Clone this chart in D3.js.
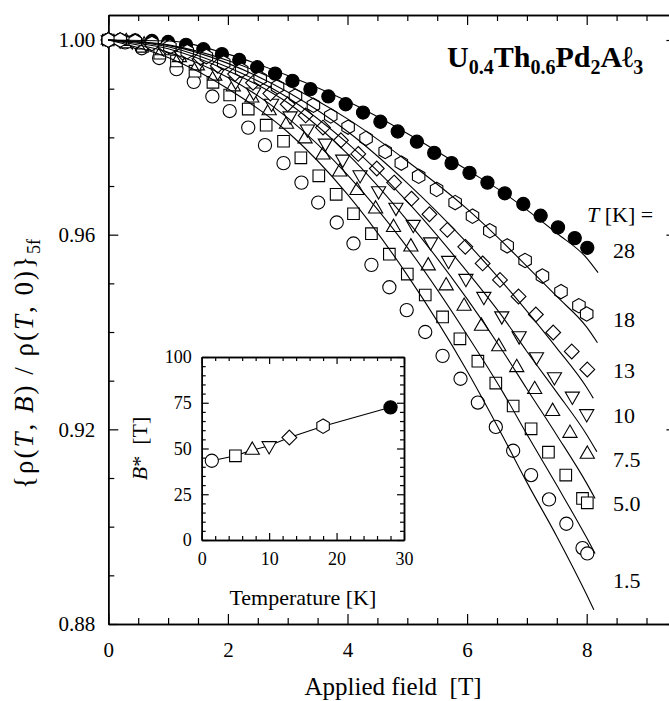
<!DOCTYPE html>
<html>
<head>
<meta charset="utf-8">
<script src="https://cdn.jsdelivr.net/npm/d3@7"></script>
<style>
  body { margin: 0; background: #fff; }
  svg { display: block; font-family: 'Liberation Serif', 'Times New Roman', serif; }
</style>
</head>
<body>
<div class="container"></div>
<script>
/* Params */
const width = 669;
const height = 701;

/* Data: applied field [T] and {rho(T,B)/rho(T,0)}_5f for each temperature */
const field28 = [0, 0.2, 0.45, 0.73, 1.0, 1.3, 1.59, 1.90, 2.19, 2.49, 2.79, 3.08, 3.38, 3.68, 3.97, 4.26, 4.55, 4.84, 5.16, 5.45, 5.74, 6.04, 6.34, 6.63, 6.94, 7.23, 7.52, 7.80, 8.01];
const rho28 = [1.0000, 1.0000, 0.9999, 0.9998, 0.9996, 0.9990, 0.9981, 0.9971, 0.9959, 0.9944, 0.9931, 0.9916, 0.9899, 0.9884, 0.9868, 0.9851, 0.9832, 0.9812, 0.9791, 0.9768, 0.9747, 0.9727, 0.9707, 0.9685, 0.9663, 0.9639, 0.9615, 0.9593, 0.9573];

const field18 = [0, 0.2, 0.45, 0.73, 1.03, 1.32, 1.64, 1.93, 2.23, 2.54, 2.83, 3.13, 3.43, 3.72, 4.01, 4.31, 4.63, 4.90, 5.19, 5.49, 5.80, 6.09, 6.38, 6.67, 6.97, 7.26, 7.57, 7.87, 8.00];
const rho18 = [1.0000, 1.0000, 0.9997, 0.9993, 0.9986, 0.9976, 0.9966, 0.9953, 0.9938, 0.9921, 0.9904, 0.9885, 0.9866, 0.9844, 0.9821, 0.9798, 0.9771, 0.9747, 0.9720, 0.9693, 0.9666, 0.9638, 0.9608, 0.9577, 0.9547, 0.9515, 0.9483, 0.9454, 0.9437];

const field13 = [0, 0.2, 0.45, 0.7, 0.95, 1.24, 1.54, 1.83, 2.12, 2.42, 2.71, 3.00, 3.30, 3.59, 3.89, 4.18, 4.49, 4.78, 5.07, 5.37, 5.67, 5.97, 6.26, 6.55, 6.86, 7.15, 7.44, 7.75, 8.01];
const rho13 = [1.0000, 1.0000, 0.9998, 0.9994, 0.9987, 0.9974, 0.9963, 0.9947, 0.9930, 0.9912, 0.9890, 0.9868, 0.9845, 0.9820, 0.9794, 0.9766, 0.9736, 0.9707, 0.9674, 0.9642, 0.9610, 0.9575, 0.9541, 0.9507, 0.9473, 0.9436, 0.9399, 0.9360, 0.9323];

const field10 = [0, 0.2, 0.4, 0.63, 0.92, 1.22, 1.52, 1.83, 2.13, 2.43, 2.73, 3.04, 3.33, 3.63, 3.92, 4.21, 4.52, 4.81, 5.10, 5.39, 5.69, 5.98, 6.28, 6.58, 6.87, 7.16, 7.46, 7.76, 8.00];
const rho10 = [1.0000, 1.0000, 0.9998, 0.9993, 0.9984, 0.9969, 0.9953, 0.9934, 0.9915, 0.9893, 0.9870, 0.9844, 0.9817, 0.9788, 0.9755, 0.9723, 0.9690, 0.9656, 0.9621, 0.9585, 0.9547, 0.9510, 0.9473, 0.9433, 0.9392, 0.9349, 0.9308, 0.9268, 0.9232];

const field7 = [0, 0.3, 0.6, 0.9, 1.19, 1.49, 1.78, 2.09, 2.40, 2.69, 2.98, 3.29, 3.59, 3.87, 4.16, 4.47, 4.77, 5.06, 5.35, 5.65, 5.95, 6.24, 6.53, 6.83, 7.13, 7.43, 7.72, 8.01];
const rho7 = [1.0000, 0.9997, 0.9990, 0.9978, 0.9964, 0.9947, 0.9926, 0.9904, 0.9881, 0.9855, 0.9827, 0.9797, 0.9764, 0.9729, 0.9691, 0.9653, 0.9615, 0.9575, 0.9536, 0.9495, 0.9453, 0.9412, 0.9370, 0.9327, 0.9282, 0.9237, 0.9192, 0.9149];

const field5 = [0, 0.28, 0.57, 0.86, 1.14, 1.45, 1.75, 2.03, 2.34, 2.64, 2.93, 3.22, 3.52, 3.81, 4.10, 4.40, 4.70, 5.00, 5.30, 5.59, 5.88, 6.18, 6.48, 6.77, 7.07, 7.36, 7.65, 7.93, 8.01];
const rho5 = [1.0000, 0.9996, 0.9987, 0.9973, 0.9957, 0.9936, 0.9913, 0.9887, 0.9858, 0.9825, 0.9792, 0.9758, 0.9721, 0.9683, 0.9643, 0.9602, 0.9560, 0.9519, 0.9476, 0.9431, 0.9386, 0.9340, 0.9295, 0.9248, 0.9201, 0.9153, 0.9106, 0.9058, 0.9049];

const field1 = [0, 0.28, 0.56, 0.85, 1.14, 1.43, 1.74, 2.03, 2.34, 2.62, 2.93, 3.23, 3.51, 3.82, 4.10, 4.40, 4.70, 4.99, 5.30, 5.59, 5.89, 6.18, 6.48, 6.77, 7.07, 7.37, 7.66, 7.93, 8.01];
const rho1 = [1.0000, 0.9995, 0.9983, 0.9963, 0.9940, 0.9914, 0.9884, 0.9854, 0.9820, 0.9784, 0.9747, 0.9707, 0.9666, 0.9625, 0.9582, 0.9538, 0.9492, 0.9445, 0.9400, 0.9351, 0.9304, 0.9255, 0.9205, 0.9156, 0.9106, 0.9056, 0.9006, 0.8956, 0.8945];

/* Fit curves (solid lines) */
const fitField = [0, 1, 2, 3, 4, 5, 6, 6.6, 7, 7.5, 8];
const fitRho28 = [1.0, 0.9998, 0.9971, 0.9927, 0.9874, 0.9808, 0.9733, 0.9687, 0.9651, 0.9603, 0.9552];
const fitRho18 = [1.0, 0.9990, 0.9958, 0.9907, 0.9838, 0.9751, 0.9653, 0.9584, 0.9535, 0.9473, 0.9410];
const fitRho13 = [1.0, 0.9989, 0.9952, 0.9893, 0.9812, 0.9706, 0.9583, 0.9501, 0.9443, 0.9367, 0.9286];
const fitRho10 = [1.0, 0.9986, 0.9944, 0.9882, 0.9788, 0.9668, 0.9524, 0.9430, 0.9360, 0.9276, 0.9189];
const fitRho7 = [1.0, 0.9982, 0.9937, 0.9871, 0.9766, 0.9629, 0.9468, 0.9360, 0.9283, 0.9188, 0.9089];
const fitRho5 = [1.0, 0.9975, 0.9923, 0.9840, 0.9723, 0.9574, 0.9394, 0.9276, 0.9190, 0.9085, 0.8977];
const fitRho1 = [1.0, 0.9964, 0.9900, 0.9811, 0.9683, 0.9517, 0.9320, 0.9185, 0.9091, 0.8980, 0.8860];
// where each fit line stops on the right
const fitEndField = [8.19, 8.18, 8.11, 8.17, 8.14, 8.14, 8.12];
const fitEndRho = [0.9522, 0.9378, 0.9264, 0.9154, 0.9058, 0.8945, 0.8829];

/* Inset: B* vs temperature */
const insetTemp = [1.5, 5.0, 7.5, 10, 13, 18, 28];
const insetBstar = [43.3, 46.0, 49.1, 51.5, 56.0, 62.2, 72.5];

/* Labels and ticks */
const tempLabels = ['28', '18', '13', '10', '7.5', '5.0', '1.5'];
const xTicks = [0, 2, 4, 6, 8];
const yTicks = [0.88, 0.92, 0.96, 1.00];
const insetXTicks = [0, 10, 20, 30];
const insetYTicks = [0, 25, 50, 75, 100];

/* Layout */
const plot = { left: 108.3, top: 15, bottom: 624, xMax: 9.5, yTop: 1.00514 };
const inset = { left: 201.7, right: 404, top: 357, bottom: 540 };
const labelX = 613;
const labelY = [258, 327, 378, 423, 467, 511, 588];

/* Marker shapes */
function shapePath(kind) {
    const p = d3.path();
    if (kind === 'circle' || kind === 'filled') {
        p.arc(0, 0, 6.6, 0, 2 * Math.PI);
    } else if (kind === 'square') {
        p.rect(-5.8, -5.8, 11.6, 11.6);
    } else if (kind === 'up' || kind === 'down') {
        const s = kind === 'up' ? 1 : -1;
        const r = 8.2;
        p.moveTo(0, -r * s);
        p.lineTo(r * Math.cos(Math.PI / 6), r * 0.5 * s);
        p.lineTo(-r * Math.cos(Math.PI / 6), r * 0.5 * s);
    } else if (kind === 'diamond') {
        const r = 7.4;
        p.moveTo(0, -r); p.lineTo(r, 0); p.lineTo(0, r); p.lineTo(-r, 0);
    } else if (kind === 'hexagon') {
        const r = 7.2;
        for (let i = 0; i < 6; i++) {
            const a = Math.PI / 2 + i * Math.PI / 3;
            if (i === 0) p.moveTo(r * Math.cos(a), -r * Math.sin(a));
            else p.lineTo(r * Math.cos(a), -r * Math.sin(a));
        }
    }
    p.closePath();
    return p.toString();
}

function drawMarkers(g, pts, kind) {
    g.selectAll(null)
        .data(pts)
        .enter()
        .append('path')
        .attr('transform', d => `translate(${d[0]},${d[1]})`)
        .attr('d', shapePath(kind))
        .attr('fill', kind === 'filled' ? '#000' : '#fff')
        .attr('stroke', '#000')
        .attr('stroke-width', 1.1);
}

function styleAxis(sel, size) {
    sel.select('.domain').attr('stroke-width', 1.5);
    sel.selectAll('.tick line').attr('stroke-width', 1.2);
    sel.selectAll('text')
        .attr('font-family', "'Liberation Serif', serif")
        .attr('font-size', size)
        .attr('fill', '#000');
}

// inward ticks on all four sides of a box, labels on bottom and left
function boxAxes(g, x, y, opt) {
    const [x0, x1] = x.range();
    const [y0, y1] = y.range();
    const sides = [
        { axis: d3.axisBottom(x), t: `translate(0,${y0})`, vals: [opt.xMajor, opt.xMinor], fmt: opt.xFormat, pad: opt.xPad },
        { axis: d3.axisTop(x), t: `translate(0,${y1})`, vals: [opt.xMajor, opt.xMinor], fmt: '' },
        { axis: d3.axisLeft(y), t: `translate(${x0},0)`, vals: [opt.yMajor, opt.yMinor], fmt: opt.yFormat, pad: opt.yPad },
        { axis: d3.axisRight(y), t: `translate(${x1},0)`, vals: [opt.yMajor, opt.yMinor], fmt: '' }
    ];
    sides.forEach(s => {
        g.append('g').attr('transform', s.t)
            .call(s.axis.tickValues(s.vals[1]).tickSize(-opt.minor).tickSizeOuter(0).tickFormat(''))
            .call(sel => styleAxis(sel, opt.font));
        g.append('g').attr('transform', s.t)
            .call(s.axis.tickValues(s.vals[0]).tickSize(-opt.major).tickSizeOuter(0)
                .tickPadding(s.pad || 3)
                .tickFormat(s.fmt === '' ? '' : s.fmt))
            .call(sel => styleAxis(sel, opt.font));
    });
}

function draw() {
    const svg = d3.select('.container')
        .append('svg')
        .attr('width', width)
        .attr('height', height)
        .style('background', '#fff');

    const x = d3.scaleLinear().domain([0, plot.xMax]).range([plot.left, plot.left + 59.8 * plot.xMax]);
    const y = d3.scaleLinear().domain([0.88, plot.yTop]).range([plot.bottom, plot.top]);

    const xMinor = d3.range(0, 9.51, 0.5).filter(v => v % 2 !== 0);
    const yMinor = d3.range(0.88, 1.0051, 0.01).filter(v => Math.round(v * 100) % 4 !== 0);

    boxAxes(svg.append('g'), x, y, {
        xMajor: xTicks, xMinor: xMinor, yMajor: yTicks, yMinor: yMinor,
        major: 10, minor: 6, font: 21, xPad: 18, yPad: 13,
        xFormat: d3.format('d'), yFormat: d3.format('.2f')
    });

    // markers, plotted per temperature
    const series = [
        { f: field28, r: rho28, kind: 'filled' },
        { f: field1, r: rho1, kind: 'circle' },
        { f: field5, r: rho5, kind: 'square' },
        { f: field7, r: rho7, kind: 'up' },
        { f: field10, r: rho10, kind: 'down' },
        { f: field13, r: rho13, kind: 'diamond' },
        { f: field18, r: rho18, kind: 'hexagon' }
    ];
    const dataG = svg.append('g');
    series.forEach(s => {
        drawMarkers(dataG, s.f.map((b, i) => [x(b), y(s.r[i])]), s.kind);
    });

    // fit lines
    const fits = [fitRho28, fitRho18, fitRho13, fitRho10, fitRho7, fitRho5, fitRho1];
    const line = d3.line().curve(d3.curveMonotoneX).x(d => x(d[0])).y(d => y(d[1]));
    fits.forEach((r, k) => {
        const pts = fitField.map((b, i) => [b, r[i]]).concat([[fitEndField[k], fitEndRho[k]]]);
        svg.append('path')
            .datum(pts)
            .attr('d', line)
            .attr('fill', 'none')
            .attr('stroke', '#000')
            .attr('stroke-width', 1.1);
    });

    // temperature labels
    svg.append('text')
        .attr('x', 587).attr('y', 222)
        .attr('font-size', 22)
        .call(t => {
            t.append('tspan').attr('font-style', 'italic').text('T');
            t.append('tspan').text(' [K] =');
        });
    svg.selectAll('.tlabel')
        .data(tempLabels)
        .enter()
        .append('text')
        .attr('class', 'tlabel')
        .attr('x', labelX)
        .attr('y', (d, i) => labelY[i])
        .attr('font-size', 22)
        .text(d => d);

    // compound name
    const title = svg.append('text')
        .attr('x', 447).attr('y', 67)
        .attr('font-size', 30)
        .attr('font-weight', 'bold');
    [['U', 0], ['0.4', 1], ['Th', 0], ['0.6', 1], ['Pd', 0], ['2', 1], ['A\u2113', 0], ['3', 1]].forEach(([s, sub], i, arr) => {
        const prevSub = i > 0 && arr[i - 1][1];
        title.append('tspan')
            .attr('dy', sub ? 7 : (prevSub ? -7 : 0))
            .attr('font-size', sub ? 20 : 30)
            .text(s);
    });

    // axis titles
    svg.append('text')
        .attr('x', 393).attr('y', 695)
        .attr('text-anchor', 'middle')
        .attr('font-size', 25)
        .text('Applied field\u00a0\u00a0[T]');

    const yt = svg.append('text')
        .attr('transform', 'translate(33,364) rotate(-90)')
        .attr('text-anchor', 'middle')
        .attr('font-size', 27)
        .attr('letter-spacing', 2);
    [['{\u03c1(', 0], ['T', 1], [', ', 0], ['B', 1], [') / \u03c1(', 0], ['T', 1], [', 0)}', 0]].forEach(([s, it]) => {
        yt.append('tspan').attr('font-style', it ? 'italic' : 'normal').text(s);
    });
    yt.append('tspan').attr('dy', 7).attr('font-size', 18).attr('letter-spacing', 0).text('5f');

    /* Inset */
    const ix = d3.scaleLinear().domain([0, 30]).range([inset.left, inset.right]);
    const iy = d3.scaleLinear().domain([0, 100]).range([inset.bottom, inset.top]);
    const insetG = svg.append('g');
    insetG.append('rect')
        .attr('x', inset.left).attr('y', inset.top)
        .attr('width', inset.right - inset.left).attr('height', inset.bottom - inset.top)
        .attr('fill', '#fff');
    boxAxes(insetG, ix, iy, {
        xMajor: insetXTicks, xMinor: d3.range(0, 31, 2).filter(v => v % 10 !== 0),
        yMajor: insetYTicks, yMinor: d3.range(0, 101, 5).filter(v => v % 25 !== 0),
        major: 7, minor: 4, font: 18, xPad: 12, yPad: 10,
        xFormat: d3.format('d'), yFormat: d3.format('d')
    });

    insetG.append('path')
        .datum(insetTemp.map((t, i) => [t, insetBstar[i]]))
        .attr('d', d3.line().x(d => ix(d[0])).y(d => iy(d[1])))
        .attr('fill', 'none')
        .attr('stroke', '#000')
        .attr('stroke-width', 1.1);
    const insetKinds = ['circle', 'square', 'up', 'down', 'diamond', 'hexagon', 'filled'];
    insetTemp.forEach((t, i) => {
        drawMarkers(insetG, [[ix(t), iy(insetBstar[i])]], insetKinds[i]);
    });

    insetG.append('text')
        .attr('x', ix(15)).attr('y', 605)
        .attr('text-anchor', 'middle')
        .attr('font-size', 22)
        .text('Temperature [K]');
    const bt = insetG.append('text')
        .attr('transform', `translate(147,${(inset.top + inset.bottom) / 2}) rotate(-90)`)
        .attr('text-anchor', 'middle')
        .attr('font-size', 22);
    bt.append('tspan').attr('font-style', 'italic').text('B');
    bt.append('tspan').text('*\u00a0\u00a0[T]');
}

draw();
</script>
</body>
</html>
